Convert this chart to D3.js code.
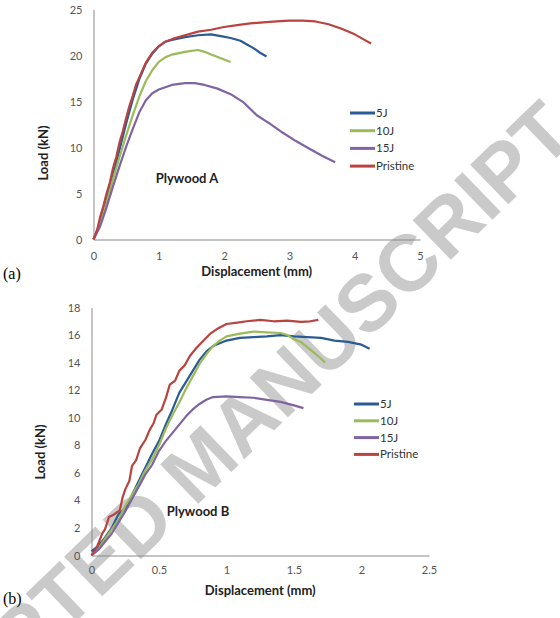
<!DOCTYPE html>
<html>
<head>
<meta charset="utf-8">
<script src="https://cdn.jsdelivr.net/npm/d3@7"></script>
<style>
  body { margin: 0; background: #fff; }
  svg { display: block; }
</style>
</head>
<body>
<svg class="svg"></svg>
<script>
// series labels + colours (legend order)
const seriesNames = ['5J', '10J', '15J', 'Pristine'];
const seriesColors = ['#2a5b94', '#9bbb59', '#8064a2', '#b9433e'];

// Plywood A  [displacement mm, load kN]
const a5J = [[0,0],[0.1,1.8],[0.2,4.3],[0.3,7.0],[0.4,9.8],[0.5,12.6],[0.6,15.2],[0.7,17.4],[0.8,19.1],[0.9,20.2],[1.0,21.0],[1.1,21.5],[1.2,21.7],[1.4,22.0],[1.6,22.2],[1.8,22.3],[1.95,22.1],[2.1,21.9],[2.25,21.6],[2.35,21.2],[2.45,20.8],[2.55,20.3],[2.65,19.9]];
const a10J = [[0,0],[0.1,1.6],[0.2,4.0],[0.3,6.6],[0.4,9.0],[0.5,11.3],[0.6,13.5],[0.7,15.5],[0.8,17.2],[0.9,18.4],[1.0,19.3],[1.1,19.8],[1.2,20.1],[1.4,20.4],[1.5,20.5],[1.6,20.6],[1.7,20.4],[1.8,20.1],[1.95,19.7],[2.1,19.3]];
const a15J = [[0,0],[0.1,1.4],[0.2,3.5],[0.3,5.8],[0.4,8.0],[0.5,10.1],[0.6,12.0],[0.7,13.8],[0.8,15.1],[0.9,15.9],[1.0,16.3],[1.2,16.8],[1.4,17.0],[1.55,17.0],[1.7,16.8],[1.9,16.4],[2.1,15.8],[2.3,14.9],[2.5,13.5],[2.7,12.6],[2.9,11.6],[3.1,10.7],[3.3,9.9],[3.5,9.1],[3.7,8.4]];
const aPristine = [[0,0],[0.05,0.9],[0.1,2.4],[0.15,3.6],[0.2,5.0],[0.25,6.2],[0.3,7.8],[0.35,9.0],[0.4,10.6],[0.45,11.8],[0.5,13.2],[0.55,14.5],[0.6,15.6],[0.65,16.8],[0.7,17.6],[0.8,19.2],[0.9,20.3],[1.0,21.0],[1.1,21.5],[1.25,21.9],[1.4,22.2],[1.6,22.6],[1.8,22.8],[2.0,23.1],[2.2,23.3],[2.4,23.5],[2.6,23.6],[2.8,23.7],[3.0,23.8],[3.2,23.8],[3.4,23.7],[3.6,23.4],[3.8,22.9],[4.0,22.3],[4.15,21.7],[4.25,21.3]];

// Plywood B
const b5J = [[0,0.3],[0.05,0.7],[0.1,1.3],[0.15,2.0],[0.2,3.0],[0.25,3.4],[0.3,4.4],[0.35,5.4],[0.4,6.4],[0.45,7.4],[0.5,8.3],[0.55,9.5],[0.6,10.6],[0.65,11.8],[0.7,12.6],[0.75,13.4],[0.8,14.2],[0.85,14.8],[0.9,15.2],[0.95,15.4],[1.0,15.6],[1.1,15.8],[1.2,15.85],[1.3,15.9],[1.4,16.0],[1.5,15.9],[1.6,15.85],[1.7,15.8],[1.8,15.6],[1.9,15.5],[2.0,15.3],[2.06,15.0]];
const b10J = [[0,0],[0.05,0.5],[0.1,1.2],[0.15,1.9],[0.2,2.6],[0.25,3.6],[0.3,4.4],[0.35,5.2],[0.4,6.2],[0.45,7.0],[0.5,8.0],[0.55,9.2],[0.6,10.2],[0.65,11.1],[0.7,12.1],[0.75,13.0],[0.8,13.9],[0.85,14.6],[0.9,15.2],[0.95,15.6],[1.0,15.9],[1.1,16.1],[1.2,16.25],[1.3,16.2],[1.4,16.15],[1.45,16.0],[1.5,15.7],[1.55,15.5],[1.6,15.1],[1.65,14.7],[1.7,14.3],[1.73,14.0]];
const b15J = [[0,0],[0.05,0.4],[0.1,1.0],[0.15,1.6],[0.2,2.4],[0.25,3.2],[0.3,4.1],[0.35,5.0],[0.4,5.9],[0.45,6.6],[0.5,7.6],[0.55,8.3],[0.6,8.9],[0.65,9.5],[0.7,10.1],[0.75,10.6],[0.8,11.0],[0.85,11.3],[0.9,11.5],[1.0,11.55],[1.1,11.5],[1.2,11.45],[1.3,11.3],[1.4,11.15],[1.5,10.9],[1.57,10.7]];
const bPristine = [[0,0],[0.04,0.6],[0.08,1.6],[0.1,1.9],[0.13,2.8],[0.17,3.0],[0.21,3.3],[0.23,4.2],[0.25,4.8],[0.28,5.4],[0.3,6.5],[0.33,6.9],[0.36,7.8],[0.4,8.4],[0.43,9.1],[0.46,9.6],[0.48,10.2],[0.52,10.6],[0.55,11.4],[0.58,12.4],[0.62,12.7],[0.65,13.4],[0.69,13.8],[0.73,14.5],[0.78,15.1],[0.83,15.6],[0.88,16.1],[0.94,16.5],[1.0,16.8],[1.08,16.9],[1.15,17.0],[1.25,17.1],[1.35,17.0],[1.45,17.05],[1.55,16.95],[1.62,17.0],[1.68,17.1]];

const aXTicks = [0, 1, 2, 3, 4, 5];
const aYTicks = [0, 5, 10, 15, 20, 25];
const bXTicks = [0, 0.5, 1, 1.5, 2, 2.5];
const bYTicks = [0, 2, 4, 6, 8, 10, 12, 14, 16, 18];

const width = 560, height = 618;
const svg = d3.select('.svg').attr('width', width).attr('height', height);
svg.append('rect').attr('width', width).attr('height', height).attr('fill', '#fff');

// watermark sits behind the charts (runs off the page, as in the scan)
svg.append('text')
  .attr('transform', 'translate(200,462) rotate(-44)')
  .attr('text-anchor', 'middle')
  .attr('dy', '0.36em')
  .attr('font-family', 'Liberation Sans, Arial, sans-serif')
  .attr('font-weight', 'bold')
  .attr('font-size', 80)
  .attr('fill', '#cacaca')
  .text('ACCEPTED MANUSCRIPT');

const tickFont = 'Lato, Open Sans, sans-serif';

function drawChart(opt) {
  const x = d3.scaleLinear().domain(opt.xDomain).range([opt.left, opt.right]);
  const y = d3.scaleLinear().domain(opt.yDomain).range([opt.bottom, opt.top]);
  const g = svg.append('g');

  // axes, Excel style: plain grey lines, no tick marks
  const xAxis = g.append('g')
    .attr('transform', `translate(0,${opt.bottom})`)
    .call(d3.axisBottom(x).tickValues(opt.xTicks).tickSize(0).tickPadding(opt.xPad).tickFormat(d3.format('')));
  const yAxis = g.append('g')
    .attr('transform', `translate(${opt.left},0)`)
    .call(d3.axisLeft(y).tickValues(opt.yTicks).tickSize(0).tickPadding(opt.yPad).tickFormat(d3.format('')));
  [xAxis, yAxis].forEach(ax => {
    ax.select('.domain').attr('stroke', '#8a8a8a').attr('stroke-width', 1);
    ax.selectAll('text').attr('font-family', tickFont).attr('font-size', 11).attr('fill', '#555');
  });

  const line = d3.line().x(d => x(d[0])).y(d => y(d[1]));
  opt.series.forEach((s, i) => {
    g.append('path')
      .datum(s)
      .attr('d', line)
      .attr('fill', 'none')
      .attr('stroke', seriesColors[i])
      .attr('stroke-width', 2.2)
      .attr('stroke-linejoin', 'round');
  });

  // legend
  const leg = g.append('g').attr('transform', `translate(${opt.legX},${opt.legY})`);
  seriesNames.forEach((name, i) => {
    const row = leg.append('g').attr('transform', `translate(0,${i * opt.legStep})`);
    row.append('line').attr('x1', 0).attr('x2', 25).attr('stroke', seriesColors[i]).attr('stroke-width', 3);
    row.append('text').attr('x', 26).attr('dy', '0.35em')
      .attr('font-family', tickFont).attr('font-size', 11.5).attr('fill', '#333').text(name);
  });

  g.append('text')
    .attr('x', (opt.left + opt.right) / 2).attr('y', opt.xLabelY)
    .attr('text-anchor', 'middle')
    .attr('font-family', tickFont).attr('font-weight', 'bold').attr('font-size', 13).attr('fill', '#222')
    .text('Displacement (mm)');
  g.append('text')
    .attr('transform', `translate(${opt.yLabelX},${opt.yLabelY}) rotate(-90)`)
    .attr('text-anchor', 'middle')
    .attr('font-family', tickFont).attr('font-weight', 'bold').attr('font-size', 13).attr('fill', '#222')
    .text('Load (kN)');
  g.append('text')
    .attr('x', opt.nameX).attr('y', opt.nameY)
    .attr('text-anchor', 'middle')
    .attr('font-family', tickFont).attr('font-weight', 'bold').attr('font-size', 13).attr('fill', '#222')
    .text(opt.name);
  g.append('text')
    .attr('x', 3).attr('y', opt.tagY)
    .attr('font-family', 'Liberation Serif, Times New Roman, serif').attr('font-size', 16).attr('fill', '#000')
    .text(opt.tag);
}

drawChart({
  xDomain: [0, 5], yDomain: [0, 25], left: 93.5, right: 420, top: 9.5, bottom: 239.5,
  xTicks: aXTicks, yTicks: aYTicks, xPad: 13, yPad: 11,
  series: [a5J, a10J, a15J, aPristine],
  legX: 350, legY: 113, legStep: 17.7,
  xLabelY: 276, yLabelX: 48, yLabelY: 153,
  name: 'Plywood A', nameX: 187, nameY: 183,
  tag: '(a)', tagY: 279
});

drawChart({
  xDomain: [0, 2.5], yDomain: [0, 18], left: 91.5, right: 429, top: 307.5, bottom: 555.5,
  xTicks: bXTicks, yTicks: bYTicks, xPad: 11, yPad: 11,
  series: [b5J, b10J, b15J, bPristine],
  legX: 354, legY: 404, legStep: 16.8,
  xLabelY: 595, yLabelX: 45, yLabelY: 452,
  name: 'Plywood B', nameX: 198, nameY: 516,
  tag: '(b)', tagY: 604
});
</script>
</body>
</html>
